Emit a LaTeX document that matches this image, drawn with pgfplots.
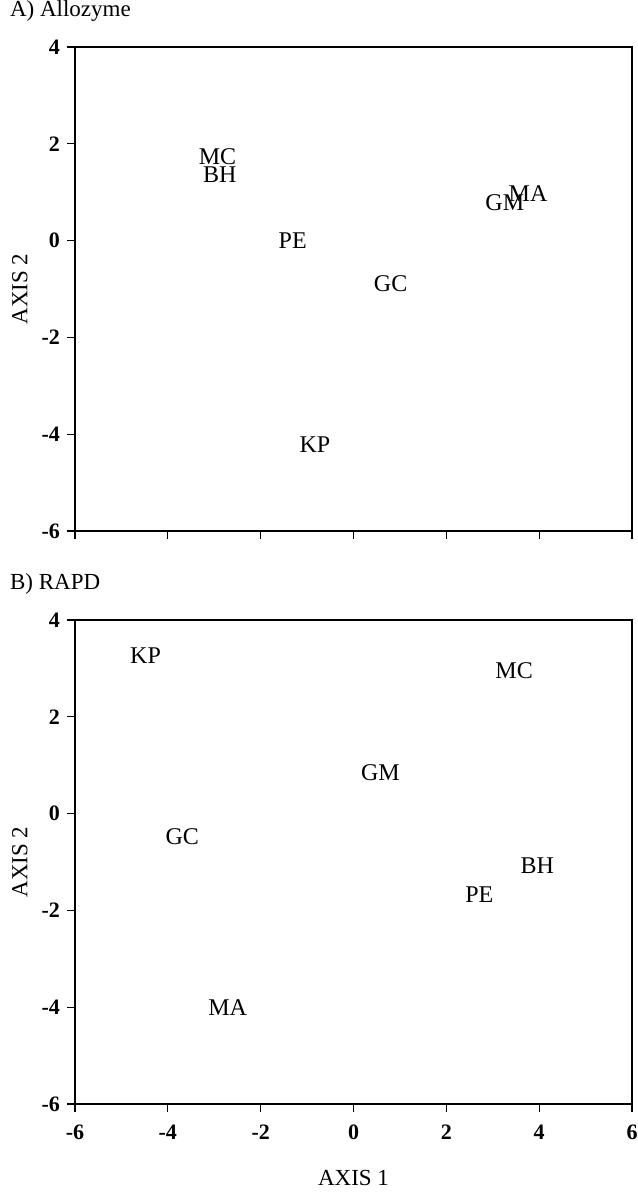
\documentclass[border=0pt]{standalone}
\usepackage{fontspec}
\setmainfont{Liberation Serif}
\usepackage{pgfplots}
\pgfplotsset{compat=1.18}
\usepackage{pgfplotstable}

\pgfplotstableread{
x y lab
-2.93 1.74 MC
-2.88 1.37 BH
-1.31 0.00 PE
0.80 -0.88 GC
3.26 0.78 GM
3.76 0.97 MA
-0.83 -4.21 KP
}\allozyme

\pgfplotstableread{
x y lab
-4.48 3.26 KP
3.46 2.96 MC
0.58 0.84 GM
-3.69 -0.47 GC
3.96 -1.08 BH
2.71 -1.67 PE
-2.71 -4.00 MA
}\rapd

\pgfplotsset{
 pcastyle/.style={
  scale only axis, width=278.5pt, height=242pt,
  xmin=-6, xmax=6, ymin=-6, ymax=4,
  xtick={-6,-4,...,6}, ytick={-6,-4,...,4},
  tick align=outside, tick pos=left, major tick length=4pt,
  tick style={black, line width=0.6pt},
  axis line style={line width=0.6pt},
  /pgf/number format/assume math mode=true,
  tick label style={font=\fontsize{11}{13}\selectfont\bfseries},
  xticklabel style={yshift=-3pt},
  ylabel={AXIS 2},
  ylabel style={at={(axis description cs:-0.099,0.5)}, anchor=center, font=\fontsize{11.5}{13}\selectfont},
  title style={at={(axis description cs:0,1)}, anchor=base west, xshift=-36pt, yshift=9pt, font=\fontsize{11.5}{13}\selectfont},
  clip=false,
 },
 lab/.style={only marks, mark=*, mark size=0pt, mark options={draw=none,fill=none},
  nodes near coords, point meta=explicit symbolic,
  every node near coord/.append style={anchor=center, font=\fontsize{12}{14}\selectfont, inner sep=0pt, text=black}},
}

\begin{document}
\begin{tikzpicture}
\useasboundingbox (-37.5pt,-330.5pt) rectangle (281pt,265.5pt);
\begin{axis}[pcastyle, at={(0pt,0pt)}, anchor=south west, title={A) Allozyme}, xticklabels={}]
\addplot[lab] table[x=x,y=y,meta=lab]{\allozyme};
\end{axis}
\begin{axis}[pcastyle, at={(0pt,-286.5pt)}, anchor=south west, title={B) RAPD},
  xlabel={AXIS 1},
  xlabel style={at={(axis description cs:0.5,-0.153)}, anchor=center, font=\fontsize{11.5}{13}\selectfont}]
\addplot[lab] table[x=x,y=y,meta=lab]{\rapd};
\end{axis}
\end{tikzpicture}
\end{document}
